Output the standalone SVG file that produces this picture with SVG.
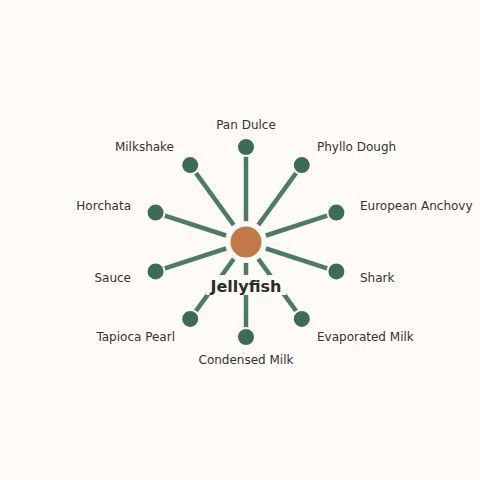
<svg xmlns="http://www.w3.org/2000/svg" width="480" height="480" viewBox="0 0 480 480">
<style>
.bg{fill:#FEFAF6}
.edge{stroke:#4E7A69;stroke-width:4.5;stroke-linecap:butt}
.leaf{fill:#3D6B5A;stroke:#FEFAF6;stroke-width:2}
.hub{fill:#C07A48;stroke:#FEFAF6;stroke-width:3}
.lbl{font-family:"DejaVu Sans",sans-serif;font-size:12px;fill:#333}
.hubl{font-family:"DejaVu Sans",sans-serif;font-size:16px;font-weight:bold;fill:#2B2B2B}
</style>
<rect class="bg" x="0" y="0" width="480" height="480"/>
<g id="connectors">
<line class="edge" x1="246" y1="242" x2="246" y2="147"/>
<line class="edge" x1="246" y1="242" x2="301.8" y2="165.1"/>
<line class="edge" x1="246" y1="242" x2="336.4" y2="212.6"/>
<line class="edge" x1="246" y1="242" x2="336.4" y2="271.4"/>
<line class="edge" x1="246" y1="242" x2="301.8" y2="318.9"/>
<line class="edge" x1="246" y1="242" x2="246" y2="337"/>
<line class="edge" x1="246" y1="242" x2="190.2" y2="318.9"/>
<line class="edge" x1="246" y1="242" x2="155.6" y2="271.4"/>
<line class="edge" x1="246" y1="242" x2="155.6" y2="212.6"/>
<line class="edge" x1="246" y1="242" x2="190.2" y2="165.1"/>
</g>
<g id="hub">
<circle cx="246" cy="242" r="21" fill="#FEFAF6"/>
<circle class="hub" cx="246" cy="242" r="17"/>
<rect x="206" y="275" width="80" height="20" fill="#FEFAF6"/>
<text class="hubl" x="246" y="291.5" text-anchor="middle">Jellyfish</text>
</g>
<g id="n-pan-dulce"><circle class="leaf" cx="246" cy="147" r="9"/><text class="lbl" x="246" y="129" text-anchor="middle">Pan Dulce</text></g>
<g id="n-phyllo-dough"><circle class="leaf" cx="301.8" cy="165.1" r="9"/><text class="lbl" x="317" y="151">Phyllo Dough</text></g>
<g id="n-european-anchovy"><circle class="leaf" cx="336.4" cy="212.6" r="9"/><text class="lbl" x="360" y="210">European Anchovy</text></g>
<g id="n-shark"><circle class="leaf" cx="336.4" cy="271.4" r="9"/><text class="lbl" x="360" y="282">Shark</text></g>
<g id="n-evaporated-milk"><circle class="leaf" cx="301.8" cy="318.9" r="9"/><text class="lbl" x="317" y="341">Evaporated Milk</text></g>
<g id="n-condensed-milk"><circle class="leaf" cx="246" cy="337" r="9"/><text class="lbl" x="246" y="364" text-anchor="middle">Condensed Milk</text></g>
<g id="n-tapioca-pearl"><circle class="leaf" cx="190.2" cy="318.9" r="9"/><text class="lbl" x="175" y="341" text-anchor="end">Tapioca Pearl</text></g>
<g id="n-sauce"><circle class="leaf" cx="155.6" cy="271.4" r="9"/><text class="lbl" x="131" y="282" text-anchor="end">Sauce</text></g>
<g id="n-horchata"><circle class="leaf" cx="155.6" cy="212.6" r="9"/><text class="lbl" x="131" y="210" text-anchor="end">Horchata</text></g>
<g id="n-milkshake"><circle class="leaf" cx="190.2" cy="165.1" r="9"/><text class="lbl" x="174" y="151" text-anchor="end">Milkshake</text></g>
</svg>
